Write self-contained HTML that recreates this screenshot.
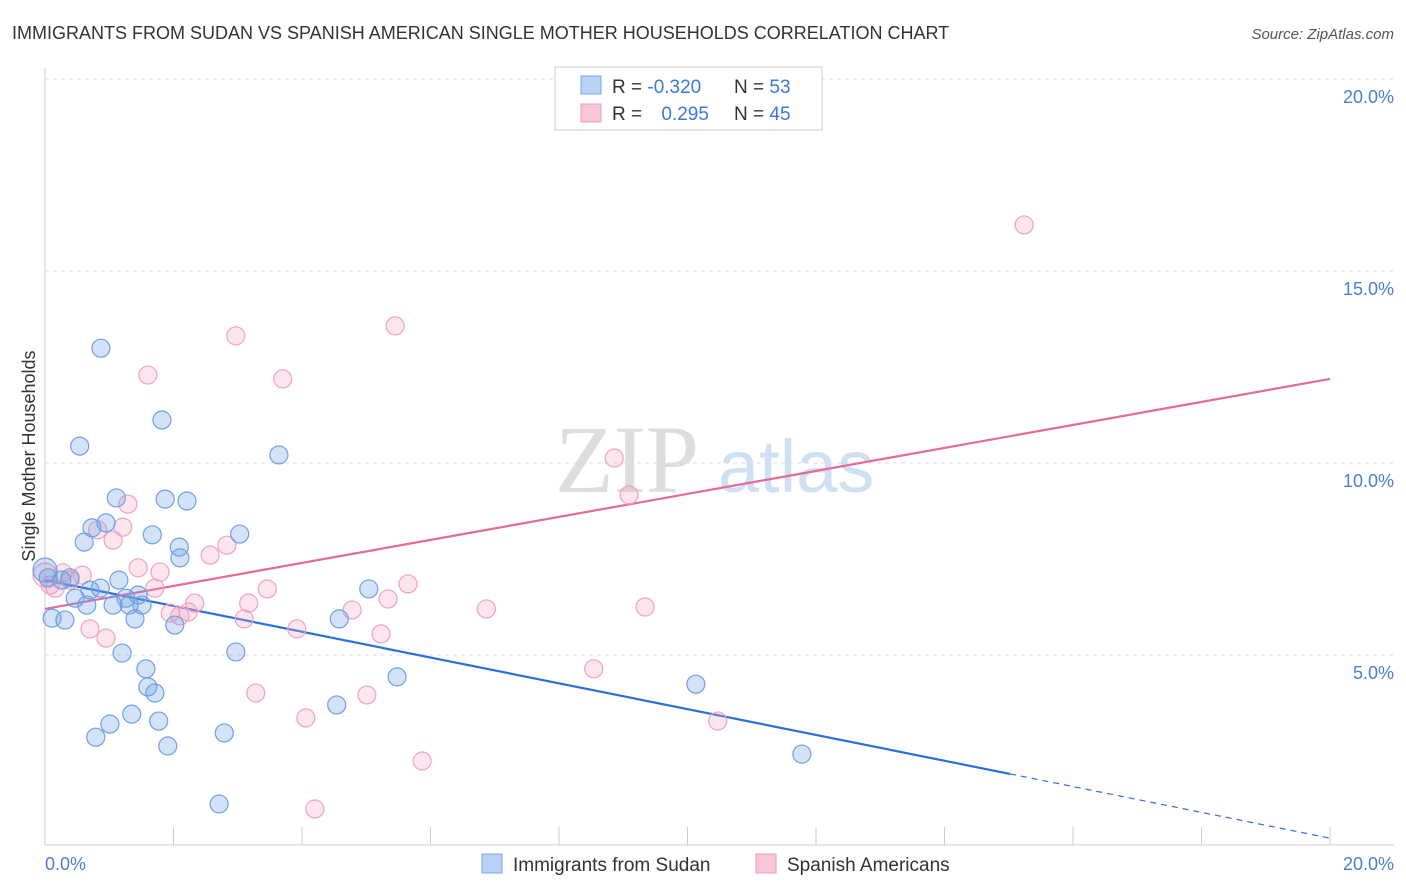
<!DOCTYPE html>
<html><head><meta charset="utf-8"><style>
body{margin:0;background:#fff;font-family:"Liberation Sans",sans-serif;}
svg{display:block}
</style></head><body>
<svg width="1406" height="892" viewBox="0 0 1406 892">
<text x="12" y="39" font-size="18" fill="#333">IMMIGRANTS FROM SUDAN VS SPANISH AMERICAN SINGLE MOTHER HOUSEHOLDS CORRELATION CHART</text>
<text x="1394" y="39" font-size="15" fill="#555" font-style="italic" text-anchor="end">Source: ZipAtlas.com</text>
<g>
<text x="555" y="492" font-size="96" font-family="Liberation Serif,serif" fill="#ddd">ZIP</text>
<text x="718" y="492" font-size="74" fill="#cfe0f3">atlas</text>
</g>
<g id="grid"></g>
<g id="axes"></g>
<g id="trends"></g>
<g id="points"></g>
<text x="35" y="456" font-size="18" fill="#333" text-anchor="middle" transform="rotate(-90 35 456)">Single Mother Households</text>
<text x="45" y="870" font-size="18" fill="#4a7fd0">0.0%</text>
<text x="1394" y="870" font-size="18" fill="#4a7fd0" text-anchor="end">20.0%</text>
<g>
<rect x="555" y="67" width="267" height="63" fill="#fff" stroke="#ccc"/>
<rect x="581" y="76" width="20" height="18" fill="#b8d2f4" stroke="#7aa6e6"/>
<rect x="581" y="104" width="20" height="18" fill="#f9c6d6" stroke="#ee9ab6"/>
<text x="612" y="93" font-size="19" fill="#333">R = <tspan fill="#3b78d8">-0.320</tspan></text>
<text x="734" y="93" font-size="19" fill="#333">N = <tspan fill="#3b78d8">53</tspan></text>
<text x="612" y="120" font-size="19" fill="#333">R = <tspan fill="#3b78d8" dx="14">0.295</tspan></text>
<text x="734" y="120" font-size="19" fill="#333">N = <tspan fill="#3b78d8">45</tspan></text>
</g>
<g>
<rect x="482" y="854" width="20" height="19" fill="#b8d2f4" stroke="#7aa6e6"/>
<text x="513" y="871" font-size="19" fill="#333">Immigrants from Sudan</text>
<rect x="756" y="854" width="20" height="19" fill="#f9c6d6" stroke="#ee9ab6"/>
<text x="787" y="871" font-size="19" fill="#333">Spanish Americans</text>
</g>
</svg>
<script>
const blueX=[0.00,0.05,0.11,0.26,0.31,0.39,0.47,0.54,0.61,0.65,0.70,0.73,0.79,0.87,0.86,0.95,1.01,1.06,1.11,1.15,1.20,1.26,1.31,1.35,1.40,1.45,1.51,1.57,1.60,1.67,1.71,1.77,1.82,1.87,1.91,2.02,2.09,2.10,2.21,2.71,2.79,2.97,3.03,3.64,4.54,4.58,5.04,5.48,10.13,11.78];
const blueY=[7.21,7.01,5.96,6.95,5.91,7.01,6.48,10.44,7.94,6.30,6.69,8.31,2.86,12.99,6.74,8.44,3.20,6.30,9.09,6.95,5.05,6.48,6.30,3.46,5.94,6.56,6.30,4.64,4.17,8.13,4.01,3.28,11.12,9.06,2.63,5.78,7.81,7.53,9.01,1.12,2.97,5.08,8.15,10.21,3.70,5.94,6.72,4.43,4.24,2.42];
const pinkX=[0.00,0.08,0.16,0.28,0.39,0.58,0.70,0.82,0.95,1.06,1.21,1.29,1.45,1.60,1.71,1.79,1.95,2.10,2.23,2.33,2.57,2.83,2.97,3.10,3.17,3.28,3.46,3.70,3.92,4.06,4.20,4.78,5.01,5.23,5.34,5.45,5.65,5.87,6.87,8.54,8.86,9.09,9.34,10.47,15.24];
const pinkY=[7.08,6.82,6.74,7.14,6.95,7.08,5.68,8.26,5.44,7.99,8.33,8.93,7.27,12.29,6.74,7.16,6.09,6.02,6.12,6.35,7.60,7.86,13.31,5.94,6.35,4.01,6.72,12.19,5.68,3.36,0.99,6.17,3.96,5.55,6.46,13.57,6.85,2.24,6.20,4.64,10.13,9.17,6.25,3.28,16.20];
const yTicks=[5,10,15,20];
const yTickLabels=["5.0%","10.0%","15.0%","20.0%"];
const xTicks=[0,2,4,6,8,10,12,14,16,18,20];
const blueTrend=[6.95,0.23], blueSolidEnd=15.02;
const pinkTrend=[6.20,12.19];
const NS="http://www.w3.org/2000/svg";
const sx=v=>45+v*64.25, sy=v=>847-v*38.4;
function mk(tag,attrs,parent){const e=document.createElementNS(NS,tag);for(const k in attrs)e.setAttribute(k,attrs[k]);parent.appendChild(e);return e;}
const grid=document.getElementById('grid'),axes=document.getElementById('axes'),trends=document.getElementById('trends'),pts=document.getElementById('points');
yTicks.forEach((t,i)=>{
 const l=mk('line',{x1:45,x2:1394,y1:sy(t),y2:sy(t),stroke:'#ddd','stroke-dasharray':'4,4'},grid);
 
 
 const tx=mk('text',{x:1394,y:sy(t)+24,'font-size':18,fill:'#4a7fd0','text-anchor':'end'},axes);
 tx.textContent=yTickLabels[i];
 
 
});
const xl=mk('line',{x1:45,x2:1394,y1:845,y2:845,stroke:'#ccc'},axes);


const yl=mk('line',{x1:45,x2:45,y1:68,y2:845,stroke:'#ccc'},axes);


xTicks.forEach(t=>{
 const l=mk('line',{x1:sx(t),x2:sx(t),y1:827,y2:845,stroke:'#ccc'},axes);
 
 
});
function yAt(tr,x){return tr[0]+(tr[1]-tr[0])*x/20;}
function drawPts(xs,ys,fill,stroke,name){
 xs.forEach((x,i)=>{
  const c=mk('circle',{cx:sx(x),cy:sy(ys[i]),r:i===0?12:9,fill:fill,stroke:stroke,'stroke-width':1.2},pts);
  
  
 });
}
drawPts(pinkX,pinkY,'rgba(244,160,190,0.28)','#f0a3bd','point-spanish-american');
drawPts(blueX,blueY,'rgba(110,160,230,0.3)','#6fa0e6','point-sudan');
const b1=mk('line',{x1:sx(0),y1:sy(blueTrend[0]),x2:sx(blueSolidEnd),y2:sy(yAt(blueTrend,blueSolidEnd)),stroke:'#2c6fd8','stroke-width':2.2},trends);


const b2=mk('line',{x1:sx(blueSolidEnd),y1:sy(yAt(blueTrend,blueSolidEnd)),x2:sx(20),y2:sy(blueTrend[1]),stroke:'#2c6fd8','stroke-width':1.2,'stroke-dasharray':'6,5'},trends);


const p1=mk('line',{x1:sx(0),y1:sy(pinkTrend[0]),x2:sx(20),y2:sy(pinkTrend[1]),stroke:'#e56a98','stroke-width':2.2},trends);


</script>
</body></html>
